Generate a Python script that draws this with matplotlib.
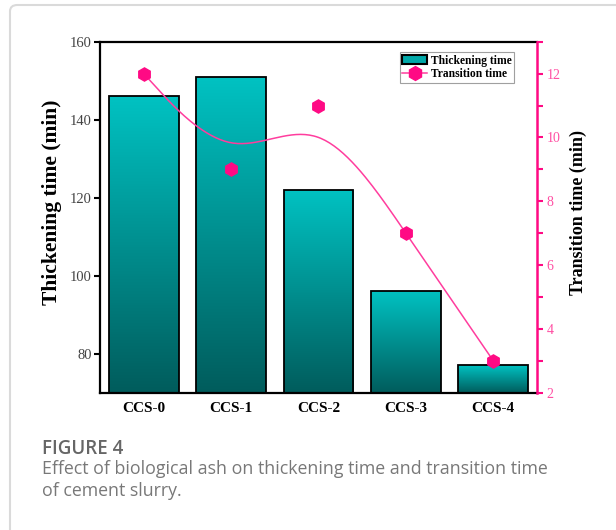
import numpy as np
import matplotlib
matplotlib.use("Agg")
import matplotlib.pyplot as plt
from matplotlib.patches import FancyBboxPatch, Rectangle
from matplotlib.lines import Line2D

samples = ["CCS-0", "CCS-1", "CCS-2", "CCS-3", "CCS-4"]
thickening = [146, 151, 122, 96, 77]
transition = [12, 9, 11, 7, 3]

PINK = "#FF0A84"
SERIF = ["Liberation Serif", "DejaVu Serif"]


def bspline(px, py, n=40):
    # uniform cubic B-spline, end points repeated so the curve starts/ends on them
    pts = np.column_stack([px, py]).astype(float)
    pts = np.vstack([pts[:1], pts[:1], pts, pts[-1:], pts[-1:]])
    t = np.linspace(0, 1, n)
    b0 = (1 - t) ** 3 / 6
    b1 = (3 * t ** 3 - 6 * t ** 2 + 4) / 6
    b2 = (-3 * t ** 3 + 3 * t ** 2 + 3 * t + 1) / 6
    b3 = t ** 3 / 6
    out = []
    for i in range(len(pts) - 3):
        seg = (np.outer(b0, pts[i]) + np.outer(b1, pts[i + 1])
               + np.outer(b2, pts[i + 2]) + np.outer(b3, pts[i + 3]))
        out.append(seg)
    out = np.vstack(out)
    return out[:, 0], out[:, 1]


fig = plt.figure(figsize=(6.16, 5.30), dpi=100)
ax = fig.add_axes([0.1623, 0.2591, 0.7094, 0.6622])
ax2 = ax.twinx()

x = np.arange(len(samples))
width = 0.8
grad = np.linspace(0, 1, 256).reshape(-1, 1)
teal = matplotlib.colors.LinearSegmentedColormap.from_list("teal", ["#005C5C", "#00C2C2"])

bars = ax.bar(x, thickening, width, bottom=0, facecolor="none", edgecolor="black",
              linewidth=1.3, zorder=3)
for b in bars:
    x0, w, h = b.get_x(), b.get_width(), b.get_height()
    im = ax.imshow(grad, cmap=teal, aspect="auto", origin="lower",
                   extent=[x0, x0 + w, 70, h], zorder=2)
    im.set_clip_path(b)

ax.set_xlim(-0.5, 4.5)
ax.set_ylim(70, 160)
ax.set_yticks([80, 100, 120, 140, 160])
ax.set_xticks(x)
ax.set_xticklabels(samples, fontfamily=SERIF, fontweight="bold", fontsize=11)
for lab in ax.get_yticklabels():
    lab.set_fontfamily(SERIF)
    lab.set_fontsize(10.5)
    lab.set_color("#444444")
ax.tick_params(axis="y", direction="out", length=4, width=1.5, pad=2)
ax.tick_params(axis="x", direction="in", length=6, width=1.5, pad=7)
for side in ["left", "top", "bottom"]:
    ax.spines[side].set_linewidth(1.6)
ax.spines["right"].set_visible(False)
ax.set_ylabel("Thickening time (min)", fontfamily=SERIF, fontweight="bold", fontsize=15.5)
ax.yaxis.set_label_coords(-0.086, 0.543)

sx, sy = bspline(x, transition)
ax2.plot(sx, sy, color="#FF3D9E", linewidth=1.1, zorder=4)
ax2.plot(x, transition, linestyle="none", marker="h", markersize=9.5,
         color=PINK, zorder=5)
ax2.set_ylim(2, 13)
ax2.set_yticks([2, 4, 6, 8, 10, 12])
ax2.set_yticks([3, 5, 7, 9, 11, 13], minor=True)
ax2.tick_params(axis="y", which="both", direction="out", length=4, width=1.5,
                colors=PINK, labelcolor="#FF4FA3", labelsize=10, pad=3)
for lab in ax2.get_yticklabels():
    lab.set_fontfamily(SERIF)
for side in ["left", "top", "bottom"]:
    ax2.spines[side].set_visible(False)
ax2.spines["right"].set_color(PINK)
ax2.spines["right"].set_linewidth(1.8)
ax2.set_ylabel("Transition time (min)", fontfamily=SERIF, fontweight="bold", fontsize=13)
ax2.yaxis.set_label_coords(1.074, 0.512)

handles = [Rectangle((0, 0), 1, 1, facecolor="#00A8A8", edgecolor="black", linewidth=1.5),
           Line2D([], [], color="#FF3D9E", marker="h", markersize=10, markerfacecolor=PINK,
                  markeredgecolor=PINK, linewidth=1.1)]
leg = ax2.legend(handles, ["Thickening time", "Transition time"], loc="upper right",
                 bbox_to_anchor=(0.947, 0.97), prop={"family": SERIF, "weight": "bold", "size": 8.3},
                 frameon=True, fancybox=False, edgecolor="#888888", handlelength=2.2,
                 handleheight=0.9, handletextpad=0.3, borderpad=0.2, labelspacing=0.15,
                 borderaxespad=0)
leg.get_frame().set_linewidth(0.8)

# caption card
frame = FancyBboxPatch((10 / 616, -0.2), 1.2, 1.2 - 5 / 530,
                       boxstyle="round,pad=0,rounding_size=0.012",
                       transform=fig.transFigure, facecolor="none",
                       edgecolor="#DADADA", linewidth=1.5)
fig.patches.append(frame)
fig.text(42 / 616, 1 - 449 / 530, "FIGURE 4", fontfamily="Open Sans", fontweight="semibold",
         fontsize=13.5, color="#666666", va="center")
fig.text(42 / 616, 1 - 469 / 530,
         "Effect of biological ash on thickening time and transition time",
         fontfamily="Open Sans", fontsize=12.8, color="#787878", va="center")
fig.text(42 / 616, 1 - 491 / 530, "of cement slurry.", fontfamily="Open Sans",
         fontsize=12.8, color="#787878", va="center")

fig.savefig("out.png", dpi=100)
